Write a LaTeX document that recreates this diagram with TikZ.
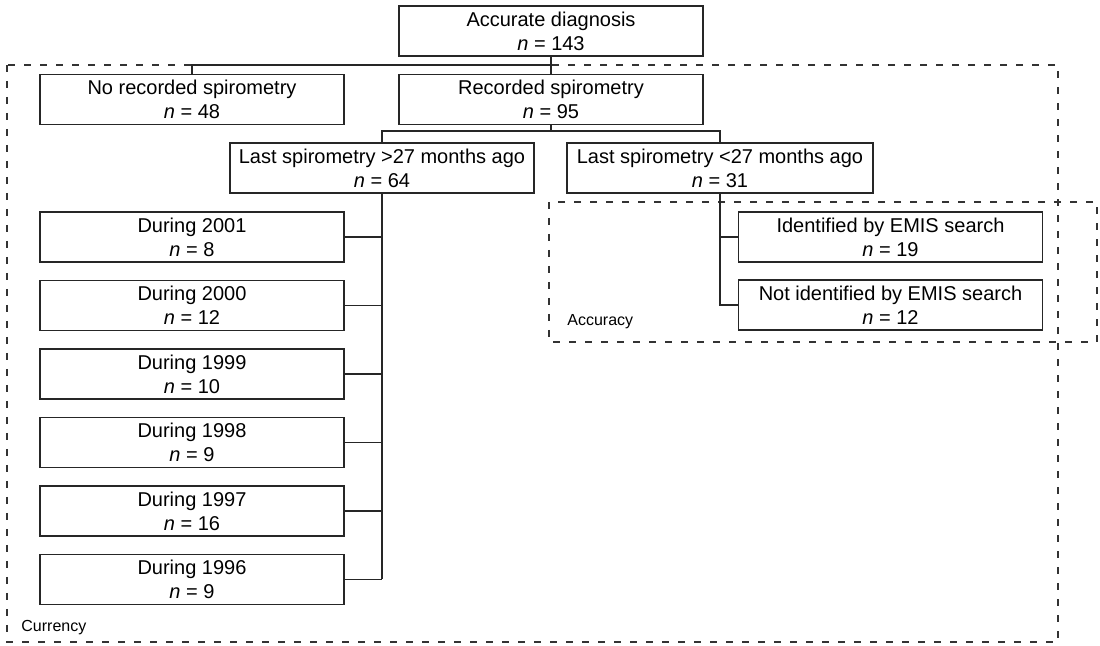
\documentclass[tikz,border=0pt]{standalone}
\usepackage{fontspec}
\setmainfont{Liberation Sans}
\usepackage{tikz}

\tikzset{
  box/.style={draw=black!85, line width=0.65pt, align=center, inner sep=0pt, minimum height=25pt},
  wide/.style={box, minimum width=152pt},
  link/.style={draw=black!85, line width=0.65pt},
  groupbox/.style={draw=black!80, line width=0.6pt, dash pattern=on 3.5pt off 4.5pt},
  grouplabel/.style={font=\footnotesize, anchor=west, inner sep=0pt}
}

\begin{document}
\begin{tikzpicture}[x=0.5pt, y=-0.5pt]
  \useasboundingbox (0,0) rectangle (1100,646);

  % groups
  \draw[groupbox] (7,65) rectangle (1058,642);
  \draw[groupbox] (549,202) rectangle (1097,342);
  \node[grouplabel] (currency) at (21,628) {Currency};
  \node[grouplabel] (accuracy) at (567,322) {Accuracy};

  % boxes
  \node[wide] (diag) at (551,31) {Accurate diagnosis\\\textit{n} = 143};
  \node[wide] (norec) at (192,99.5) {No recorded spirometry\\\textit{n} = 48};
  \node[wide] (rec) at (551,99.5) {Recorded spirometry\\\textit{n} = 95};
  \node[wide] (old) at (382,168) {Last spirometry >27 months ago\\\textit{n} = 64};
  \node[wide, minimum width=153pt] (recent) at (720,168) {Last spirometry <27 months ago\\\textit{n} = 31};
  \node[wide] (ident) at (890.5,237) {Identified by EMIS search\\\textit{n} = 19};
  \node[wide] (notid) at (890.5,305) {Not identified by EMIS search\\\textit{n} = 12};
  \foreach \yr/\n [count=\i] in {2001/8,2000/12,1999/10,1998/9,1997/16,1996/9}
    \node[wide] (y\yr) at (192,{237+68.5*(\i-1)}) {During \yr\\\textit{n} = \n};

  % connectors
  \coordinate (split1) at (551,65);
  \coordinate (split2) at (551,131);
  \draw[link] (diag.south) -- (rec.north);
  \draw[link] (norec.north) |- (split1);
  \draw[link] (rec.south) -- (split2);
  \draw[link] (old.north) |- (recent.north |- split2) -- (recent.north);
  \draw[link] (old.south) -- (old.south |- y1996.east);
  \foreach \yr in {2001,2000,1999,1998,1997,1996}
    \draw[link] (y\yr.east) -- (old.south |- y\yr.east);
  \draw[link] (recent.south) |- (notid.west);
  \draw[link] (ident.west) -- (recent.south |- ident.west);
\end{tikzpicture}
\end{document}
